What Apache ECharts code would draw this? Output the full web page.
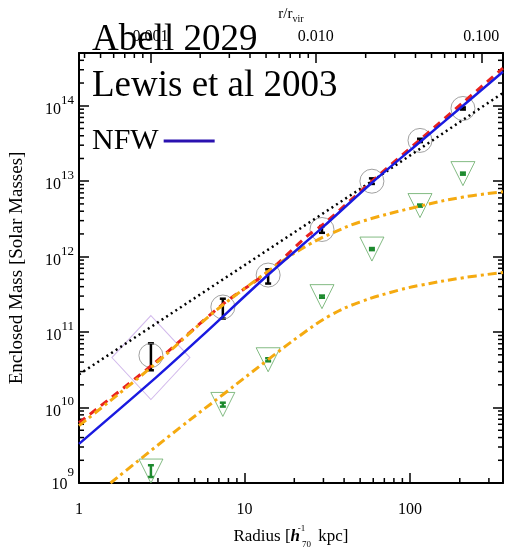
<!DOCTYPE html>
<html><head><meta charset="utf-8">
<script src="https://cdn.jsdelivr.net/npm/echarts@6.0.0/dist/echarts.min.js"></script>
<style>html,body{margin:0;padding:0;background:#fff}#c{width:506px;height:554px}</style>
</head><body><div id="c"></div>
<script>
// ---------- data ----------
const R_VIR = 2700; // kpc, maps radius to r/r_vir on the top axis
const xTickLabels = [1, 10, 100];
const topTickLabels = [0.001, 0.010, 0.100];

// black data points (circled), radius in kpc, mass in solar masses
const pointR  = [2.72, 7.4, 13.9, 29.4, 58.9, 115, 209];
const pointM  = [4.9e10, 2.15e11, 5.7e11, 2.29e12, 1.0e13, 3.47e13, 9.2e13];
const pointLo = [3.12e10, 1.51e11, 4.4e11, 2.07e12, 9.2e12, 3.3e13, 8.9e13];
const pointHi = [7.1e10, 2.77e11, 6.8e11, 2.54e12, 1.09e13, 3.65e13, 9.5e13];

// green triangles
const triR  = [2.72, 7.4, 13.9, 29.4, 58.9, 115, 209];
const triM  = [1.44e9, 1.1e10, 4.3e10, 2.95e11, 1.26e12, 4.75e12, 1.26e13];
const triLo = [1.2e9, 1.03e10, 4.1e10, 2.85e11, 1.22e12, 4.6e12, 1.22e13];
const triHi = [1.72e9, 1.16e10, 4.5e10, 3.05e11, 1.30e12, 4.9e12, 1.30e13];

// purple diamond marker
const diamondR = [2.72];
const diamondM = [4.6e10];

// NFW (blue solid)
const nfwR = [1, 2.96, 5.41, 13.9, 30, 58.9, 115, 209, 365];
const nfwM = [3.3e9, 2.57e10, 8.5e10, 5.75e11, 2.5e12, 9.55e12, 3.31e13, 1.0e14, 2.82e14];

// red dashed
const redR = [1, 2.72, 7.4, 13.9, 23.8, 30, 58.9, 115, 209, 365];
const redM = [6.3e9, 3.55e10, 2.34e11, 6.3e11, 1.86e12, 2.69e12, 1.0e13, 3.55e13, 1.1e14, 3.16e14];

// orange dash-dot (upper)
const orU_R = [1, 2.72, 5.41, 7.4, 12.45, 18, 25, 33, 50, 115, 210, 365];
const orU_M = [5.75e9, 3.39e10, 1.29e11, 2.29e11, 5.37e11, 9.55e11, 1.48e12, 2.0e12, 2.88e12, 4.68e12, 6.17e12, 7.24e12];

// orange dash-dot (lower)
const orL_R = [1.55, 4, 7.46, 13.8, 21.8, 32.9, 50, 87, 115, 210, 365];
const orL_M = [1.0e9, 5.25e9, 1.5e10, 4.27e10, 9.1e10, 1.66e11, 2.51e11, 3.63e11, 4.17e11, 5.25e11, 6.17e11];

// black dotted power law
const dotR = [1, 58.9, 365];
const dotM = [2.75e10, 1.0e13, 1.48e14];

// ---------- helpers ----------
const zip = (a, b) => a.map((v, i) => [v, b[i]]);
const FONT = '"Liberation Serif", "DejaVu Serif", serif';
const isPow10 = v => Math.abs(Math.log10(v) - Math.round(Math.log10(v))) < 1e-6;

const xMinor = [2,3,4,5,6,7,8,9,20,30,40,50,60,70,80,90,200,300];
const topMinor = [];
[-4,-3,-2].forEach(d => { for (let k = 2; k <= 9; k++) { const v = k * Math.pow(10, d); if (v > 1/R_VIR && v < 365/R_VIR) topMinor.push(v); } });
const yMinor = [];
for (let d = 9; d <= 14; d++) for (let k = 2; k <= 9; k++) { const v = k * Math.pow(10, d); if (v < 5e14) yMinor.push(v); }

function errRender(color, capW, lw) {
  return function (params, api) {
    const x = api.value(0), lo = api.value(1), hi = api.value(2);
    const p1 = api.coord([x, lo]), p2 = api.coord([x, hi]);
    const st = { stroke: color, lineWidth: lw };
    return { type: 'group', children: [
      { type: 'line', shape: { x1: p1[0], y1: p1[1], x2: p2[0], y2: p2[1] }, style: st },
      { type: 'line', shape: { x1: p1[0] - capW / 2, y1: p1[1], x2: p1[0] + capW / 2, y2: p1[1] }, style: st },
      { type: 'line', shape: { x1: p2[0] - capW / 2, y1: p2[1], x2: p2[0] + capW / 2, y2: p2[1] }, style: st }
    ]};
  };
}
function xTickRender(top, len) {
  return function (params, api) {
    const cs = params.coordSys;
    const x = api.coord([api.value(0), api.value(1)])[0];
    const y0 = top ? cs.y : cs.y + cs.height;
    const y1 = top ? y0 + len : y0 - len;
    return { type: 'line', shape: { x1: x, y1: y0, x2: x, y2: y1 }, style: { stroke: '#000', lineWidth: 1.5 } };
  };
}
function yTickRender(len) {
  return function (params, api) {
    const cs = params.coordSys;
    const y = api.coord([api.value(0), api.value(1)])[1];
    const st = { stroke: '#000', lineWidth: 1.5 };
    return { type: 'group', children: [
      { type: 'line', shape: { x1: cs.x, y1: y, x2: cs.x + len, y2: y }, style: st },
      { type: 'line', shape: { x1: cs.x + cs.width, y1: y, x2: cs.x + cs.width - len, y2: y }, style: st }
    ]};
  };
}

const axisLineStyle = { lineStyle: { color: '#000', width: 2 } };
const majorTick = { show: true, inside: true, length: 10, lineStyle: { color: '#000', width: 1.5 } };

const chart = echarts.init(document.getElementById('c'), null, { renderer: 'canvas' });
chart.setOption({
  animation: false,
  backgroundColor: '#fff',
  grid: { left: 79, right: 3, top: 53, bottom: 66 },
  legend: {
    data: [{ name: 'NFW', icon: 'rect', itemStyle: { color: '#2a12b0' } }],
    left: 92, top: 126, align: 'right', padding: 0,
    itemWidth: 51, itemHeight: 3, selectedMode: false,
    textStyle: { fontFamily: FONT, fontSize: 30, color: '#000' }
  },
  graphic: [
    { type: 'text', x: 92, y: 40, z: 100, style: { text: 'Abell 2029', font: '37px ' + FONT, fill: '#000', align: 'left', verticalAlign: 'middle' } },
    { type: 'text', x: 92, y: 86, z: 100, style: { text: 'Lewis et al 2003', font: '37px ' + FONT, fill: '#000', align: 'left', verticalAlign: 'middle' } }
  ],
  xAxis: [
    {
      type: 'log', logBase: 10, min: 1, max: 365, position: 'bottom',
      axisLine: axisLineStyle, axisTick: majorTick, splitLine: { show: false },
      axisLabel: { margin: 19, color: '#000', fontFamily: FONT, fontSize: 16,
        formatter: v => (isPow10(v) && xTickLabels.includes(Math.round(v))) ? String(Math.round(v)) : '' },
      name: '{n|Radius [}{h|h}{sup|-1}{sub|70}{n| kpc]}', nameLocation: 'middle', nameGap: 41,
      nameTextStyle: { fontFamily: FONT, color: '#000', rich: {
        n: { fontFamily: FONT, fontSize: 17, color: '#000', padding: [4, 0, 4, 0] },
        h: { fontFamily: FONT, fontSize: 17, color: '#000', fontStyle: 'italic', fontWeight: 'bold', padding: [4, 1, 4, 0] },
        sup: { fontFamily: FONT, fontSize: 9, color: '#000', verticalAlign: 'top', width: 1 },
        sub: { fontFamily: FONT, fontSize: 9, color: '#000', verticalAlign: 'bottom', padding: [0, 3, 0, 0] }
      } }
    },
    {
      type: 'log', logBase: 10, min: 1 / R_VIR, max: 365 / R_VIR, position: 'top',
      axisLine: axisLineStyle, axisTick: majorTick, splitLine: { show: false },
      axisLabel: { margin: 8, color: '#000', fontFamily: FONT, fontSize: 16,
        formatter: v => isPow10(v) ? topTickLabels.find(t => Math.abs(t - v) / t < 1e-6).toFixed(3) : '' },
      name: '{m|r/r}{sub|vir}', nameLocation: 'middle', nameGap: 15,
      nameTextStyle: { rich: {
        m: { fontFamily: FONT, fontSize: 15, color: '#000', verticalAlign: 'top' },
        sub: { fontFamily: FONT, fontSize: 10, color: '#000', verticalAlign: 'bottom', padding: [8, 0, 0, 0] }
      } }
    }
  ],
  yAxis: [
    {
      type: 'log', logBase: 10, min: 1e9, max: 5e14, position: 'left',
      axisLine: axisLineStyle, axisTick: majorTick, splitLine: { show: false },
      axisLabel: { margin: 5,
        formatter: v => {
          if (!isPow10(v)) return '';
          const e = Math.round(Math.log10(v));
          return e === 9 ? '{b9|10}{s9|9}' : '{b|10}{s|' + e + '}';
        },
        rich: {
          b: { fontFamily: FONT, fontSize: 16, color: '#000', verticalAlign: 'bottom', padding: [8, 0, 0, 0] },
          s: { fontFamily: FONT, fontSize: 13, color: '#000', verticalAlign: 'top' },
          b9: { fontFamily: FONT, fontSize: 16, color: '#000', verticalAlign: 'bottom', padding: [0, 0, 13, 0] },
          s9: { fontFamily: FONT, fontSize: 13, color: '#000', verticalAlign: 'top', padding: [6, 0, 26, 0] }
        } },
      name: 'Enclosed Mass [Solar Masses]', nameLocation: 'middle', nameGap: 52, nameRotate: 90,
      nameTextStyle: { fontFamily: FONT, fontSize: 19, color: '#000' }
    },
    {
      type: 'log', logBase: 10, min: 1e9, max: 5e14, position: 'right',
      axisLine: axisLineStyle, axisTick: majorTick, splitLine: { show: false },
      axisLabel: { show: false }
    }
  ],
  series: [
    { type: 'custom', name: 'xminor', renderItem: xTickRender(false, 5), data: xMinor.map(v => [v, 1e10]), silent: true },
    { type: 'custom', name: 'topminor', xAxisIndex: 1, renderItem: xTickRender(true, 5), data: topMinor.map(v => [v, 1e10]), silent: true },
    { type: 'custom', name: 'yminor', renderItem: yTickRender(5), data: yMinor.map(v => [2, v]), silent: true },
    { type: 'line', name: 'dotted', data: zip(dotR, dotM), showSymbol: false, symbol: 'none',
      lineStyle: { color: '#000', width: 2.5, type: [2, 3.5] } },
    { type: 'line', name: 'red', data: zip(redR, redM), showSymbol: false, symbol: 'none', smooth: 0.3,
      lineStyle: { color: '#e8221e', width: 3, type: [8, 6] } },
    { type: 'line', name: 'orangeU', data: zip(orU_R, orU_M), showSymbol: false, symbol: 'none', smooth: 0.4,
      lineStyle: { color: '#f5aa10', width: 3, type: [9, 4, 3, 4] } },
    { type: 'line', name: 'orangeL', data: zip(orL_R, orL_M), showSymbol: false, symbol: 'none', smooth: 0.4,
      lineStyle: { color: '#f5aa10', width: 3, type: [9, 4, 3, 4] } },
    { type: 'line', name: 'NFW', data: zip(nfwR, nfwM), showSymbol: false, symbol: 'none', smooth: 0.3,
      itemStyle: { color: '#1a1ae0' }, lineStyle: { color: '#1a1ae0', width: 2.5 } },
    { type: 'scatter', name: 'diamond', data: zip(diamondR, diamondM), symbol: 'diamond', symbolSize: [78, 84],
      itemStyle: { color: 'rgba(0,0,0,0)', borderColor: '#c6a6e6', borderWidth: 1 } },
    { type: 'scatter', name: 'circles', data: zip(pointR, pointM), symbol: 'circle', symbolSize: 24,
      itemStyle: { color: 'rgba(0,0,0,0)', borderColor: '#8a8a8a', borderWidth: 1 } },
    { type: 'custom', name: 'blackErr', renderItem: errRender('#000', 6, 2.5),
      data: pointR.map((r, i) => [r, pointLo[i], pointHi[i]]) },
    { type: 'scatter', name: 'triangles', data: zip(triR, triM), symbol: 'triangle', symbolRotate: 180, symbolSize: [24, 24],
      itemStyle: { color: 'rgba(0,0,0,0)', borderColor: '#64aa64', borderWidth: 1 } },
    { type: 'custom', name: 'greenErr', renderItem: errRender('#1d8a2e', 6, 2.5),
      data: triR.map((r, i) => [r, triLo[i], triHi[i]]) }
  ]
});
</script>
</body></html>
